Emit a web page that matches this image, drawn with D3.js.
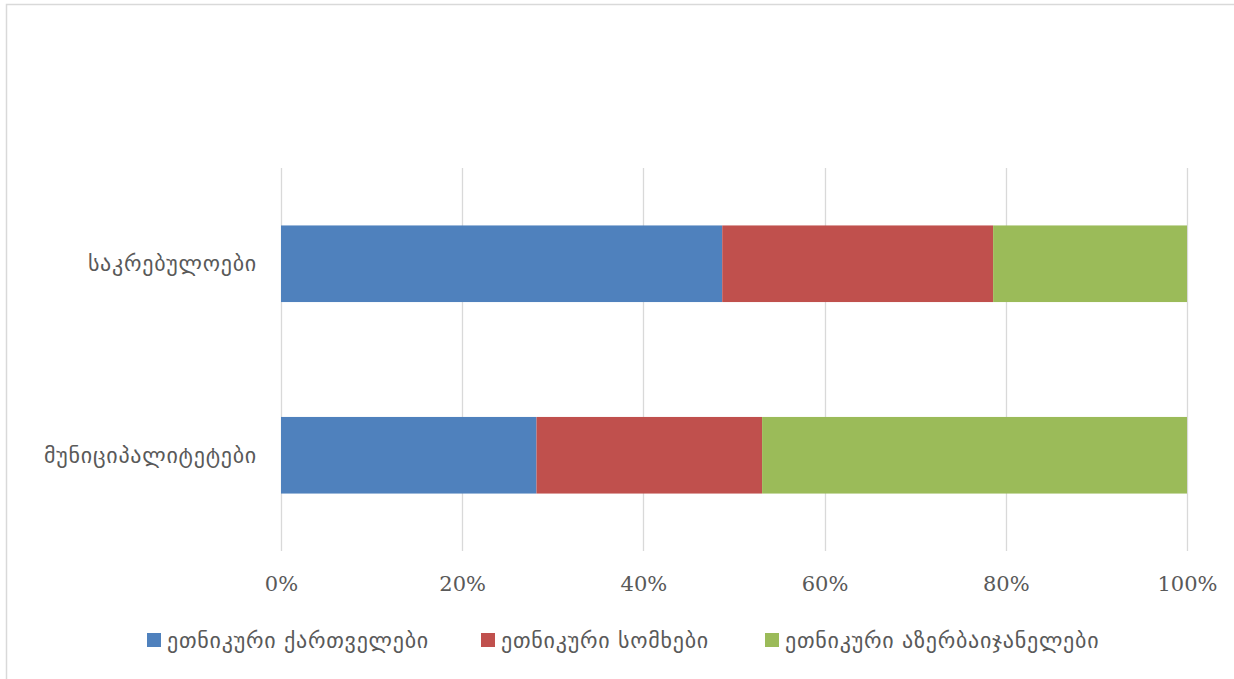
<!DOCTYPE html>
<html>
<head>
<meta charset="utf-8">
<script src="https://cdn.jsdelivr.net/npm/d3@7"></script>
<style>
  html, body { margin: 0; padding: 0; background: #fff; }
  svg { display: block; }
</style>
</head>
<body>
<script>
// Shares of council members by ethnicity (percent of total, each row sums to 100)
const categories = ["საკრებულოები", "მუნიციპალიტეტები"];
const seriesNames = ["ეთნიკური ქართველები", "ეთნიკური სომხები", "ეთნიკური აზერბაიჯანელები"];
const georgians = [48.7, 28.2];
const armenians = [29.9, 24.9];
const azerbaijanis = [21.4, 46.9];
const tickValues = [0, 20, 40, 60, 80, 100];
const colors = ["#4F81BD", "#C0504D", "#9BBB59"];

const W = 1234, H = 679;
const plot = { left: 281, right: 1187, top: 168, bottom: 551 };
const georgianFont = "'DejaVu Sans', 'Noto Sans', sans-serif";
const numberFont = "'DejaVu Serif', 'Liberation Serif', serif";

const svg = d3.select("body").append("svg").attr("width", W).attr("height", H);

// outer chart frame
svg.append("rect")
  .attr("x", 6.5).attr("y", 4.5)
  .attr("width", W + 10).attr("height", H + 10)
  .attr("fill", "#fff").attr("stroke", "#d9d9d9").attr("stroke-width", 1.5);

const rows = categories.map((c, i) => ({
  category: c,
  values: [georgians[i], armenians[i], azerbaijanis[i]]
}));

const x = d3.scaleLinear().domain([0, 100]).range([plot.left, plot.right]);
const y = d3.scaleBand().domain(categories).range([plot.top, plot.bottom])
  .paddingInner(0.6).paddingOuter(0.3);

// vertical gridlines
svg.append("g").selectAll("line").data(tickValues).join("line")
  .attr("x1", d => Math.round(x(d)) + 0.5).attr("x2", d => Math.round(x(d)) + 0.5)
  .attr("y1", plot.top).attr("y2", plot.bottom)
  .attr("stroke", "#d9d9d9").attr("stroke-width", 1.3);

// stacked segments
const stack = d3.stack().keys([0, 1, 2]).value((d, k) => d.values[k]);
const layers = stack(rows);

svg.append("g").selectAll("g").data(layers).join("g")
  .attr("fill", (d, i) => colors[i])
  .selectAll("rect").data(d => d).join("rect")
  .attr("x", d => x(d[0]))
  .attr("width", d => x(d[1]) - x(d[0]))
  .attr("y", d => y(d.data.category))
  .attr("height", y.bandwidth());

// x axis labels
const xAxis = d3.axisBottom(x).tickValues(tickValues).tickSize(0).tickPadding(0)
  .tickFormat(d => d + "%");
const gx = svg.append("g").attr("transform", `translate(0, 591)`).call(xAxis);
gx.select(".domain").remove();
gx.selectAll("text")
  .attr("dy", 0)
  .attr("font-family", numberFont)
  .attr("font-size", 21)
  .attr("fill", "#595959");

// category labels
const yAxis = d3.axisLeft(y).tickSize(0).tickPadding(0);
const gy = svg.append("g").attr("transform", `translate(257, 0)`).call(yAxis);
gy.select(".domain").remove();
gy.selectAll("text")
  .attr("dy", "0.35em")
  .attr("font-family", georgianFont)
  .attr("font-size", 22)
  .attr("letter-spacing", 0.75)
  .attr("fill", "#595959");

// legend
const legendX = [147, 481, 765];
const legend = svg.append("g").selectAll("g").data(seriesNames).join("g")
  .attr("transform", (d, i) => `translate(${legendX[i]}, 633)`);
legend.append("rect")
  .attr("width", 14).attr("height", 14)
  .attr("fill", (d, i) => colors[i]);
legend.append("text")
  .attr("x", 20).attr("y", 7).attr("dy", "0.35em")
  .attr("font-family", georgianFont)
  .attr("font-size", 22)
  .attr("letter-spacing", 0.75)
  .attr("fill", "#595959")
  .text(d => d);
</script>
</body>
</html>
